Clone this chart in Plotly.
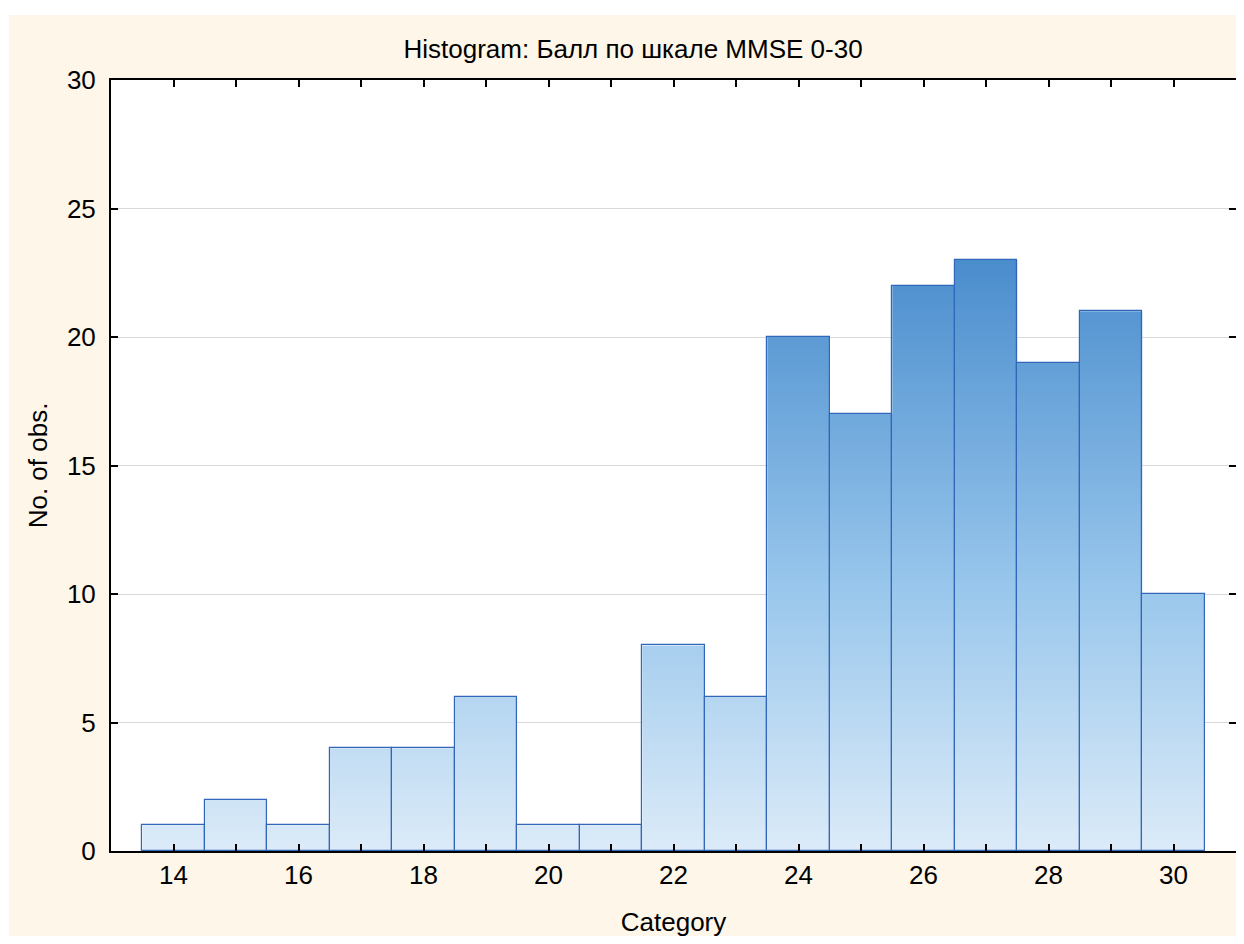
import plotly.graph_objects as go

categories = [14, 15, 16, 17, 18, 19, 20, 21, 22, 23, 24, 25, 26, 27, 28, 29, 30]
counts = [1, 2, 1, 4, 4, 6, 1, 1, 8, 6, 20, 17, 22, 23, 19, 21, 10]
x_tick_positions = [13, 14, 15, 16, 17, 18, 19, 20, 21, 22, 23, 24, 25, 26, 27, 28, 29, 30, 31]
x_tick_labels = ["", "14", "", "16", "", "18", "", "20", "", "22", "", "24", "", "26", "", "28", "", "30", ""]
y_ticks = [0, 5, 10, 15, 20, 25, 30]

title_text = "Histogram: Балл по шкале MMSE 0-30"
x_title = "Category"
y_title = "No. of obs."

FONT = "Liberation Sans, Arial, sans-serif"
CREAM = "#FEF6E9"
EDGE = "#3166B8"

# step outline of histogram (bin edges derived from categories)
edges = [c - 0.5 for c in categories] + [categories[-1] + 0.5]
step_y = counts + [counts[-1]]

fig = go.Figure()

fig.add_trace(go.Scatter(
    x=edges, y=step_y, mode="lines", line=dict(width=0, shape="hv"),
    fill="tozeroy",
    fillgradient=dict(type="vertical",
                      colorscale=[[0, "#DCEBF8"], [0.45, "#98C6EC"], [1, "#4A8DCD"]],
                      start=0, stop=23),
    hoverinfo="skip", showlegend=False,
))

# outlines on an overlaid axis pair so they sit above the gradient fill
fig.add_trace(go.Bar(
    x=categories, y=counts, width=1, xaxis="x2", yaxis="y2",
    marker=dict(color="rgba(0,0,0,0)", line=dict(color=EDGE, width=1.2)),
    showlegend=False,
))

W, H = 1236, 936
L, R, T, B = 103, 6, 72, 93
pw, ph = W - L - R, H - T - B


def px(x):
    return (x - L) / pw


def py(y):
    return (H - B - y) / ph


# thin white border around the cream page (as in the reference)
for x0, x1, y0, y1 in [(0, W, 0, 7), (W - 3, W, 0, H), (0, W, H - 8, H), (0, 1, 0, H)]:
    fig.add_shape(type="rect", xref="paper", yref="paper",
                  x0=px(x0), x1=px(x1), y0=py(y1), y1=py(y0),
                  fillcolor="white", line=dict(width=0), layer="above")

fig.update_layout(
    width=W, height=H,
    margin=dict(l=L, r=R, t=T, b=B),
    paper_bgcolor=CREAM,
    plot_bgcolor="white",
    bargap=0,
    font=dict(family=FONT, size=26, color="black"),
    title=dict(text=title_text, x=px(626), xref="paper", xanchor="center",
               y=1 - 41 / H, yanchor="middle",
               font=dict(family=FONT, size=26, color="black")),
    xaxis=dict(
        type="linear",
        range=[13, 31], tickmode="array", tickvals=x_tick_positions, ticktext=x_tick_labels,
        ticks="inside", ticklen=7, tickwidth=2, tickcolor="black",
        showline=True, linecolor="black", linewidth=2, mirror="allticks",
        showgrid=False, zeroline=False,
        tickfont=dict(family=FONT, size=26),
        title=dict(text=x_title, standoff=24, font=dict(family=FONT, size=26)),
    ),
    yaxis=dict(
        range=[0, 30], tickmode="array", tickvals=y_ticks,
        ticks="inside", ticklen=7, tickwidth=2, tickcolor="black",
        showline=True, linecolor="black", linewidth=2, mirror="allticks",
        showgrid=True, gridcolor="#D9D9D9", gridwidth=1, zeroline=False,
        tickfont=dict(family=FONT, size=26), ticklabelstandoff=8,
        title=dict(text=y_title, standoff=12, font=dict(family=FONT, size=26)),
    ),
    xaxis2=dict(overlaying="x", range=[13, 31], visible=False),
    yaxis2=dict(overlaying="y", range=[0, 30], visible=False),
)

fig.write_html("out.html")
